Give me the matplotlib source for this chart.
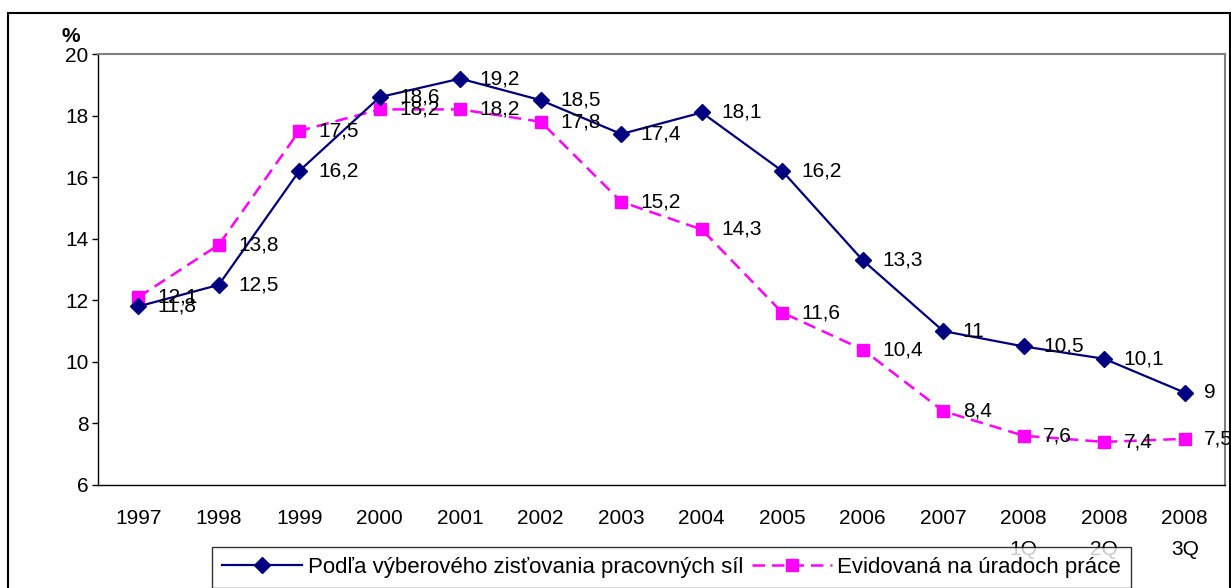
import matplotlib
matplotlib.use("Agg")
import matplotlib.pyplot as plt
from matplotlib.lines import Line2D
from matplotlib.patches import Rectangle

categories = ["1997", "1998", "1999", "2000", "2001", "2002", "2003", "2004",
              "2005", "2006", "2007", "2008\n1Q", "2008\n2Q", "2008\n3Q"]
survey = [11.8, 12.5, 16.2, 18.6, 19.2, 18.5, 17.4, 18.1, 16.2, 13.3, 11.0, 10.5, 10.1, 9.0]
registered = [12.1, 13.8, 17.5, 18.2, 18.2, 17.8, 15.2, 14.3, 11.6, 10.4, 8.4, 7.6, 7.4, 7.5]
survey_name = "Podľa výberového zisťovania pracovných síl"
registered_name = "Evidovaná na úradoch práce"

plt.rcParams['font.family'] = ['Liberation Sans', 'DejaVu Sans']

W, H = 1231, 588
fig = plt.figure(figsize=(W / 100, H / 100), dpi=100)
ax = fig.add_axes([98 / W, 1 - 485 / H, (1225 - 98) / W, (485 - 54) / H])

x = list(range(len(categories)))
blue = "#000080"
pink = "#FF00FF"
FS = 15

ax.plot(x, survey, color=blue, lw=1.6, marker="D", ms=8.5, mfc=blue, mec=blue, zorder=3)
ax.plot(x, registered, color=pink, lw=1.8, ls=(0, (5, 2.8)), marker="s", ms=8,
        mfc=pink, mec=pink, zorder=2)

def fmt(v):
    s = f"{v:.1f}".replace(".", ",")
    if s.endswith(",0"):
        s = s[:-2]
    return s

for xi, v in zip(x, registered):
    ax.annotate(fmt(v), (xi, v), xytext=(14, 0), textcoords="offset points",
                va="center", ha="left", fontsize=FS, zorder=5, annotation_clip=False)
for xi, v in zip(x, survey):
    ax.annotate(fmt(v), (xi, v), xytext=(14, 0), textcoords="offset points",
                va="center", ha="left", fontsize=FS, zorder=5, annotation_clip=False)

ax.set_xlim(-0.5, len(categories) - 0.5)
ax.set_ylim(6, 20)
ax.set_yticks(range(6, 21, 2))
ax.set_xticks(x)
ax.set_xticklabels(categories, fontsize=FS, linespacing=1.8)
ax.tick_params(axis="x", length=0, pad=17.5)
ax.tick_params(axis="y", length=4, width=1, labelsize=FS, pad=3, direction="out")

for s in ["top", "right"]:
    ax.spines[s].set_color("#808080")
    ax.spines[s].set_linewidth(1.5)
for s in ["left", "bottom"]:
    ax.spines[s].set_color("#000000")
    ax.spines[s].set_linewidth(1.0)

fig.text(62 / W, 1 - 36 / H, "%", fontsize=FS, fontweight="bold", ha="left", va="center")

# outer chart border
fig.patches.append(Rectangle((8 / W, -0.1), (1230 - 8) / W, 1 - 13 / H + 0.1,
                             transform=fig.transFigure, fill=False, ec="#000000",
                             lw=1.5, zorder=0))

handles = [
    Line2D([], [], color=blue, lw=1.6, marker="D", ms=8.5, mfc=blue, mec=blue),
    Line2D([], [], color=pink, lw=1.8, ls=(0, (5, 2.8)), marker="s", ms=8, mfc=pink, mec=pink),
]
leg = fig.legend(handles, [survey_name, registered_name], loc="upper left",
                 bbox_to_anchor=(212 / W, 1 - 547 / H), ncol=2, frameon=True,
                 fontsize=16, handlelength=3.6, handletextpad=0.25, columnspacing=0.4,
                 borderpad=0.45, fancybox=False, edgecolor="#000000", borderaxespad=0)
leg.get_frame().set_linewidth(1.0)
leg.set_zorder(10)

fig.savefig("out.png", dpi=100)
